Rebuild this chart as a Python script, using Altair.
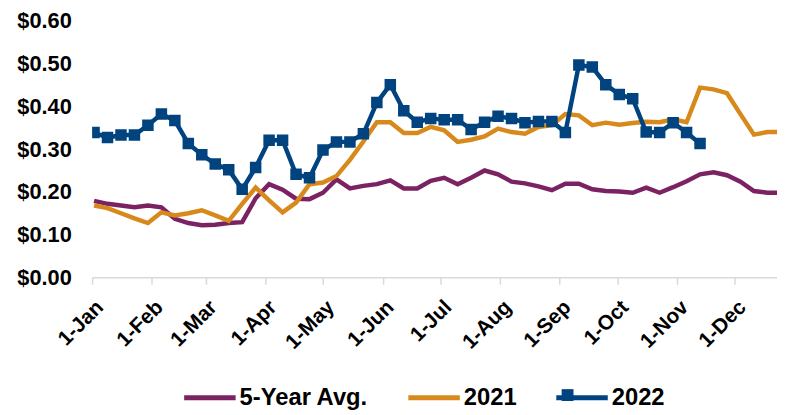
import altair as alt
import pandas as pd

# weekly observation dates (plotted on a common Jan-Dec axis)
weeks = pd.date_range("2022-01-02", periods=52, freq="7D")

avg5 = [0.179, 0.172, 0.168, 0.164, 0.168, 0.164, 0.137, 0.127, 0.122, 0.123,
        0.127, 0.129, 0.185, 0.218, 0.205, 0.184, 0.183, 0.198, 0.229, 0.208,
        0.214, 0.218, 0.227, 0.208, 0.208, 0.226, 0.233, 0.218, 0.233, 0.250,
        0.241, 0.224, 0.220, 0.213, 0.204, 0.219, 0.219, 0.206, 0.202, 0.201,
        0.198, 0.210, 0.198, 0.211, 0.225, 0.241, 0.246, 0.239, 0.224, 0.202,
        0.198, 0.198]

y2021 = [0.168, 0.162, 0.150, 0.138, 0.127, 0.152, 0.145, 0.150, 0.157, 0.145,
         0.132, 0.172, 0.210, 0.180, 0.152, 0.175, 0.218, 0.222, 0.237, 0.275,
         0.318, 0.363, 0.363, 0.338, 0.338, 0.352, 0.344, 0.317, 0.322, 0.330,
         0.348, 0.340, 0.336, 0.352, 0.356, 0.382, 0.379, 0.356, 0.362, 0.357,
         0.361, 0.364, 0.363, 0.370, 0.363, 0.444, 0.440, 0.431, 0.382, 0.334,
         0.340, 0.340]

y2022 = [0.339, 0.327, 0.333, 0.333, 0.356, 0.382, 0.367, 0.313, 0.287, 0.265,
         0.252, 0.206, 0.257, 0.321, 0.321, 0.241, 0.233, 0.298, 0.317, 0.317,
         0.336, 0.409, 0.451, 0.390, 0.363, 0.372, 0.369, 0.369, 0.346, 0.363,
         0.377, 0.372, 0.362, 0.365, 0.365, 0.339, 0.497, 0.492, 0.451, 0.428,
         0.418, 0.340, 0.339, 0.362, 0.339, 0.313]

series_names = ["5-Year Avg.", "2021", "2022"]
series_colors = ["#7B2262", "#D8891C", "#00437F"]
y_ticks = [0.0, 0.1, 0.2, 0.3, 0.4, 0.5, 0.6]

rows = []
for name, vals in zip(series_names, [avg5, y2021, y2022]):
    for d, v in zip(weeks, vals):
        rows.append({"series": name, "date": d, "value": v})
df = pd.DataFrame(rows)

FONT = "Liberation Sans"
BLUE = series_colors[2]

month_ticks = [alt.DateTime(year=2022, month=m, date=1) for m in range(1, 13)]

x_enc = alt.X(
    "date:T",
    scale=alt.Scale(domain=[alt.DateTime(year=2022, month=1, date=1),
                            alt.DateTime(year=2022, month=12, date=23)]),
    axis=alt.Axis(
        title=None, values=month_ticks, format="%-d-%b",
        labelAngle=-45, labelAlign="right", labelBaseline="top",
        labelFlush=False, labelOverlap=False,
        labelFont=FONT, labelFontSize=21, labelFontWeight="bold", labelColor="#000000",
        labelPadding=12, tickColor="#D9D9D9", tickSize=7, tickWidth=1.5,
        domainColor="#D9D9D9", domainWidth=1.5, grid=False,
    ),
)
y_enc = alt.Y(
    "value:Q",
    scale=alt.Scale(domain=[0, 0.6], nice=False, zero=True),
    axis=alt.Axis(
        title=None, values=y_ticks, format="$.2f",
        labelFont=FONT, labelFontSize=22, labelFontWeight="bold", labelColor="#000000",
        ticks=False, tickSize=0, domain=False, grid=False, labelPadding=21,
    ),
)

line_legend = alt.Legend(
    title=None, orient="none", legendX=90.5, legendY=352, direction="horizontal",
    symbolType="stroke", symbolSize=2704, symbolStrokeWidth=5,
    labelFont=FONT, labelFontSize=24, labelFontWeight="bold", labelColor="#000000",
    labelOffset=1.5, columnPadding=29.5, padding=0, zindex=1,
)

color_enc = alt.Color(
    "series:N",
    scale=alt.Scale(domain=series_names, range=series_colors),
    legend=line_legend,
)

# square marker shown on the 2022 legend entry
marker_legend = alt.Legend(
    title=None, orient="none", legendX=474.4, legendY=372, direction="horizontal",
    symbolSize=144, symbolStrokeWidth=0, symbolFillColor=BLUE, symbolOpacity=1,
    labelExpr="''", labelFontSize=1, labelOffset=0, padding=0, zindex=2,
)

lines = alt.Chart(df).mark_line(strokeWidth=4.5, clip=True).encode(
    x=x_enc, y=y_enc, color=color_enc
)

points = alt.Chart(df).transform_filter(
    alt.datum.series == "2022"
).mark_point(size=135, filled=True, opacity=1, clip=True, color=BLUE).encode(
    x="date:T", y="value:Q",
    shape=alt.Shape("series:N", scale=alt.Scale(domain=["2022"], range=["square"]),
                    legend=marker_legend),
)

chart = alt.layer(lines, points).properties(
    width=692, height=259,
    autosize=alt.AutoSizeParams(type="none"),
    padding={"left": 85, "top": 11, "right": 0, "bottom": 137},
).configure_view(stroke=None)

chart.save("out.html", embed_options={"renderer": "svg", "actions": False})
